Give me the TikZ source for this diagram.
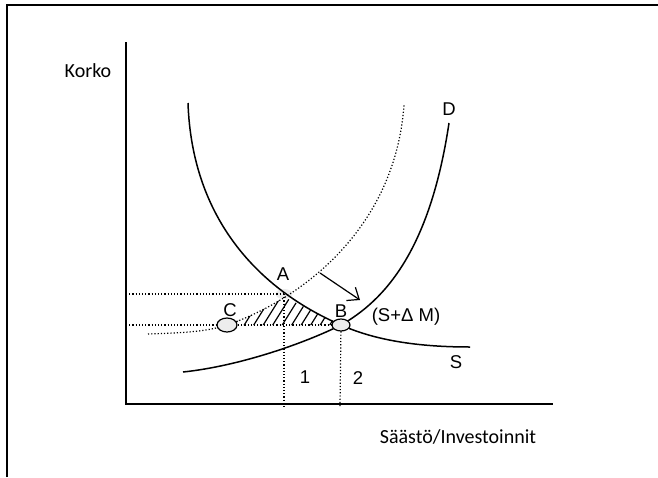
\documentclass[tikz,border=0pt]{standalone}
\usepackage{fontspec}
\setmainfont{Liberation Sans}
\newfontfamily\calfont{Carlito}
\usetikzlibrary{arrows.meta,shapes.geometric}
\begin{document}
\begin{tikzpicture}[x=1pt,y=-1pt,
  frame/.style={line width=2pt},
  axis/.style={line width=2pt},
  curve/.style={line width=1.5pt},
  dotline/.style={line width=1.2pt, dotted},
  lbl/.style={inner sep=0pt, font=\fontsize{18.5}{20}\selectfont},
  axlbl/.style={inner sep=0pt, font=\calfont\fontsize{20}{24}\selectfont},
  eqpt/.style={ellipse, draw, line width=1.2pt, fill=black!7, inner sep=0pt},
  hatch/.style={line width=1.2pt}]
\useasboundingbox (0,0) rectangle (658,477);
\draw[frame] (7,477) -- (7,5) -- (658,5);
% axes
\coordinate (O) at (126,404);
\coordinate (ytop) at (126,42);
\coordinate (xend) at (553,404);
\draw[axis] (ytop) -- (O) -- (xend);
% key points
\coordinate (pA) at (284,294);
\coordinate (pB) at (341,325);
\coordinate (pC) at (227,325);
\node[ellipse, fill=black!8, minimum width=17pt, minimum height=10pt, inner sep=0pt] (A) at (pA) {};
% hatch
\begin{scope}
\clip (pC) -- (249.5,316.1) -- (272.5,304.5) -- (284,297) -- (311,310) -- (pB) -- cycle;
\foreach \x in {200,209.5,...,360} \draw[hatch] (\x,335) -- ++(25,-40);
\end{scope}
% dotted lines
\coordinate (yA) at (126,294);
\coordinate (yB) at (126,325);
\coordinate (xA) at (284,407);
\coordinate (xB) at (340,407);
\draw[dotline] (yA) -- (A.center);
\draw[dotline] (yB) -- (pB);
\draw[dotline] (A.center) -- (xA);
\draw[dotline] (pB) -- (xB);
% dotted shifted curve
\draw[dotline] (148,334) .. controls (175,333) and (205,332.5) .. (pC) .. controls (300,300) and (395,230) .. (404,105);
% S curve
\draw[curve] (188,103) .. controls (192,220) and (260,290) .. (pB) .. controls (370,338) and (410,347) .. (470,347);
% D curve
\draw[curve] (183,372) .. controls (240,366) and (305,343) .. (pB) .. controls (385,300) and (430,250) .. (449,123);
% arrow
\coordinate (a1) at (320,273);
\coordinate (a2) at (360,300);
\draw[line width=1.2pt, -{Straight Barb[length=10pt,width=16pt]}] (a1) -- (a2);
% equilibrium points
\node[eqpt, minimum width=20pt, minimum height=14pt] (C) at (pC) {};
\node[eqpt, minimum width=18pt, minimum height=12pt] (B) at (pB) {};
% labels
\node[lbl] (lA) at (283,274) {A};
\node[lbl] (lB) at (341,311) {B};
\node[lbl] (lC) at (230,310) {C};
\node[lbl] (lD) at (449,109) {D};
\node[lbl] (lS) at (456,362) {S};
\node[lbl] (lSM) at (406,317) {(S+Δ M)};
\node[lbl] (l1) at (305,377) {1};
\node[lbl] (l2) at (358,378) {2};
\node[axlbl] (ylbl) at (88,71) {Korko};
\node[axlbl] (xlbl) at (458,437) {Säästö/Investoinnit};
\end{tikzpicture}
\end{document}
